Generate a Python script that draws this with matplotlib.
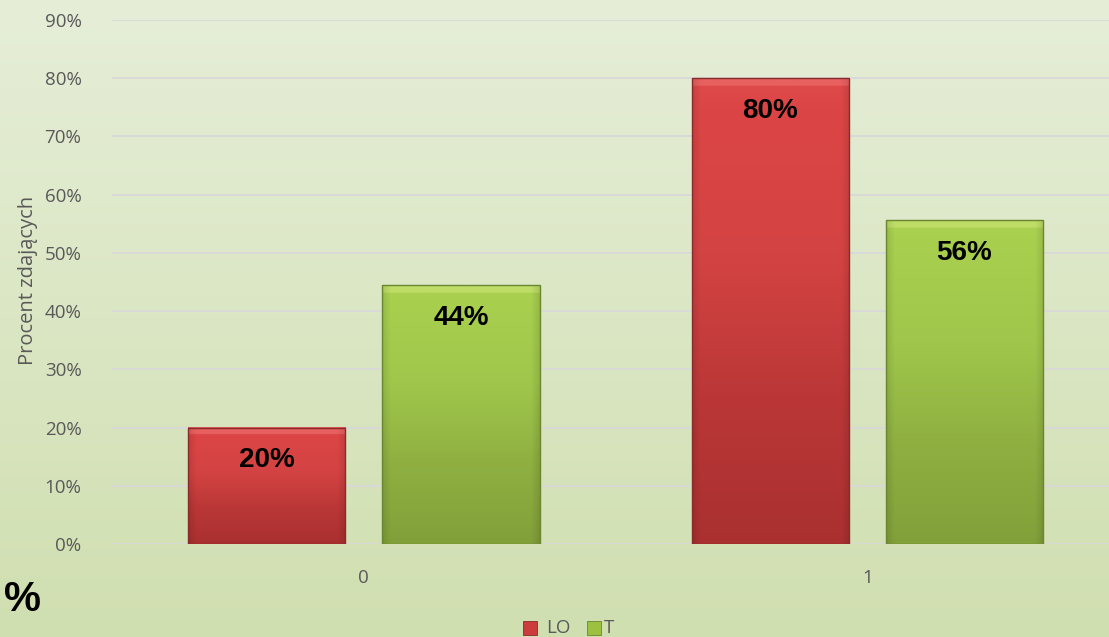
import numpy as np
import matplotlib
matplotlib.use('Agg')
import matplotlib.pyplot as plt
from matplotlib.colors import LinearSegmentedColormap
from matplotlib.ticker import PercentFormatter
from matplotlib.patches import Rectangle

plt.rcParams['font.family'] = ['Open Sans', 'DejaVu Sans']

categories = ['0', '1']
series = ['LO', 'T']
lo_vals = [0.20, 0.80]
t_vals = [0.444, 0.556]
bar_labels_lo = ['20%', '80%']
bar_labels_t = ['44%', '56%']

W, H = 1109, 637
fig = plt.figure(figsize=(W / 100, H / 100), dpi=100)

# tlo z gradientem
bg = fig.add_axes([0, 0, 1, 1], zorder=-10)
grad = np.linspace(0, 1, 256).reshape(-1, 1)
bg_cmap = LinearSegmentedColormap.from_list('bg', ['#e6eed8', '#d0dfb0'])
bg.imshow(grad, aspect='auto', cmap=bg_cmap, extent=[0, 1, 0, 1], origin='upper')
bg.axis('off')

ax = fig.add_axes([112 / W, (637 - 544) / H, 1 - 112 / W, (544 - 20) / H])
ax.patch.set_alpha(0)

x = np.arange(len(categories))
bw = 0.312
off = 0.193

red_cmap = LinearSegmentedColormap.from_list('r', ['#e86060', '#dc4545', '#d44343', '#bb3737', '#aa3030'])
green_cmap = LinearSegmentedColormap.from_list('g', ['#bedd66', '#a8cf4e', '#a0c74b', '#8fb041', '#82a03a'])


def draw_bars(xs, vals, cmap, edge):
    bars = ax.bar(xs, vals, width=bw, color='none', edgecolor=edge, linewidth=1.0, zorder=3)
    for b in bars:
        x0, y0, w, h = b.get_x(), b.get_y(), b.get_width(), b.get_height()
        ny = 300
        v = np.linspace(0, 1, ny)
        vals_img = 0.2 + 0.8 * v
        # jasniejszy brzeg u gory (bevel)
        vals_img = np.where(v < 0.012 / max(h, 0.05), 0.0, vals_img)
        img = cmap(vals_img.reshape(-1, 1))[:, :, :3]
        img = np.repeat(img, 80, axis=1)
        sx = np.linspace(0, 1, 80)
        side = 1 - 0.10 * (np.clip(1 - sx / 0.05, 0, 1) + np.clip((sx - 0.95) / 0.05, 0, 1))
        img = img * side[None, :, None]
        ax.imshow(img, extent=[x0, x0 + w, y0, y0 + h], origin='upper',
                  aspect='auto', zorder=2, interpolation='bilinear')
    return bars


draw_bars(x - off, lo_vals, red_cmap, '#8a2a2a')
draw_bars(x + off, t_vals, green_cmap, '#6b8630')

lab_font = ['Liberation Sans', 'DejaVu Sans']
for i in range(len(categories)):
    ax.text(x[i] - off, lo_vals[i] - 0.056, bar_labels_lo[i], ha='center', va='center',
            fontsize=20, fontweight='bold', color='black', zorder=5, family=lab_font)
    ax.text(x[i] + off, t_vals[i] - 0.056, bar_labels_t[i], ha='center', va='center',
            fontsize=20, fontweight='bold', color='black', zorder=5, family=lab_font)

ax.set_xlim(-0.5, 1.48)
ax.set_ylim(0, 0.9)
ax.set_yticks(np.arange(0, 0.91, 0.1))
ax.yaxis.set_major_formatter(PercentFormatter(1.0, decimals=0))
ax.set_xticks(x)
ax.set_xticklabels(categories)
ax.tick_params(axis='both', length=0, colors='#595959', labelsize=13.5)
ax.tick_params(axis='x', pad=18)
ax.tick_params(axis='y', pad=22)
ax.grid(axis='y', color='#d9d9d9', linewidth=1.3, zorder=0)
ax.set_axisbelow(True)
for s in ax.spines.values():
    s.set_visible(False)

fig.text(28 / W, 1 - 280 / H, 'Procent zdających', rotation=90, ha='center', va='center',
         fontsize=14.5, color='#595959')
fig.text(4 / W, 1 - 600 / H, '%', ha='left', va='center', fontsize=30, fontweight='bold',
         color='black', family=lab_font)

# legenda
ly = 1 - 628 / H
fig.patches.append(Rectangle((523 / W, ly - 7 / H), 14 / W, 14 / H, transform=fig.transFigure,
                             facecolor='#cc3c3c', edgecolor='#8a2a2a', lw=0.6))
fig.text(546 / W, ly, series[0], ha='left', va='center', fontsize=13.5, color='#595959')
fig.patches.append(Rectangle((587 / W, ly - 7 / H), 14 / W, 14 / H, transform=fig.transFigure,
                             facecolor='#9cc040', edgecolor='#6b8630', lw=0.6))
fig.text(604 / W, ly, series[1], ha='left', va='center', fontsize=13.5, color='#595959')

fig.savefig('out.png', dpi=100)
